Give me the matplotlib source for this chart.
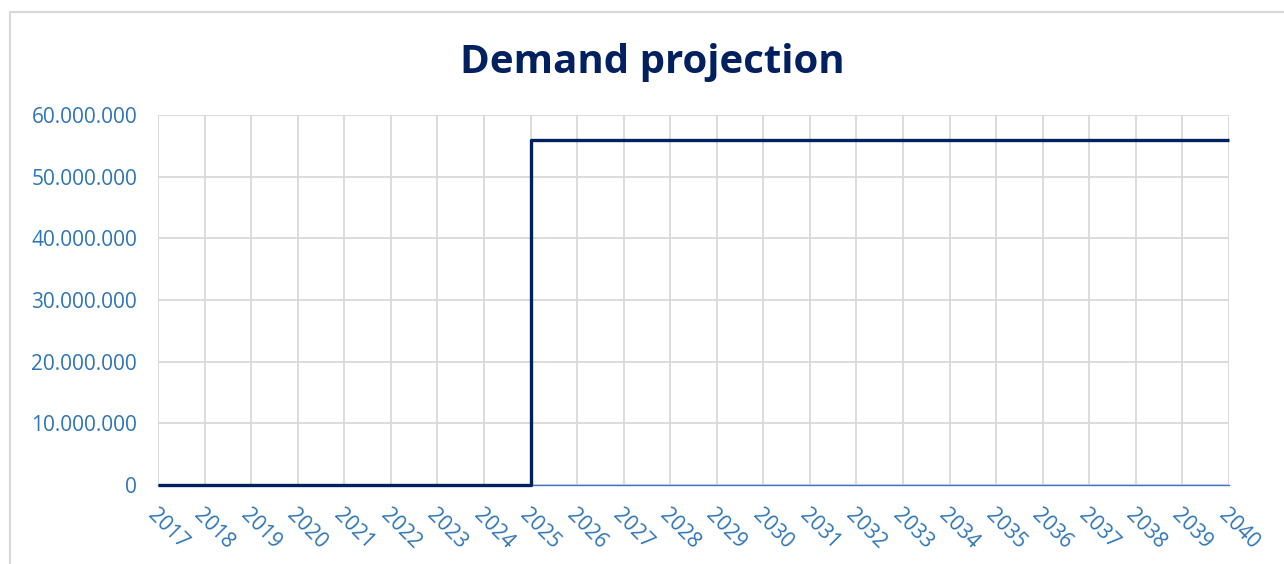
import matplotlib
matplotlib.use("Agg")
import matplotlib.pyplot as plt
from matplotlib.patches import Rectangle
from matplotlib.ticker import FuncFormatter

# data
years = list(range(2017, 2041))
demand = [0] * 8 + [56000000] * 16
y_ticks = [0, 10000000, 20000000, 30000000, 40000000, 50000000, 60000000]

navy = "#002060"
tick_blue = "#2E75B6"

plt.rcParams['font.family'] = ['Open Sans', 'DejaVu Sans']

fig = plt.figure(figsize=(12.84, 5.64), dpi=100)
ax = fig.add_axes([158 / 1284, 1 - 485 / 564, (1229 - 158) / 1284, (485 - 115) / 564])

# outer chart border (light gray), open to the right/bottom edge
fig.patches.append(Rectangle((9.5 / 1284, -0.1), 1.2, 1.1 - 12.5 / 564,
                             transform=fig.transFigure, fill=False,
                             edgecolor="#D9D9D9", linewidth=1.5))

# value jumps at 2025 and stays flat
ax.plot(years, demand, drawstyle="steps-post", color=navy, linewidth=2.4,
        solid_capstyle="butt", zorder=3, clip_on=False)

ax.set_xlim(2017, 2040)
ax.set_ylim(0, 60000000)
ax.set_xticks(years)
ax.set_yticks(y_ticks)
ax.yaxis.set_major_formatter(FuncFormatter(lambda v, p: f"{int(v):,}".replace(",", ".")))

ax.grid(True, color="#D9D9D9", linewidth=1.3)
ax.set_axisbelow(True)
for s in ["top", "right", "left"]:
    ax.spines[s].set_visible(False)
ax.spines["bottom"].set_color("#4472C4")
ax.spines["bottom"].set_linewidth(1.0)

ax.tick_params(axis="both", length=0, colors=tick_blue, labelsize=15)
ax.tick_params(axis="y", pad=15)
ax.tick_params(axis="x", pad=14)
for lab in ax.get_xticklabels():
    lab.set_rotation(-45)
    lab.set_ha("left")
    lab.set_va("top")
    lab.set_rotation_mode("anchor")

fig.text(652 / 1284, 1 - 63 / 564, "Demand projection", ha="center", va="center",
         fontsize=29, fontweight="bold", color=navy)

fig.savefig("out.png", dpi=100, facecolor="white")
